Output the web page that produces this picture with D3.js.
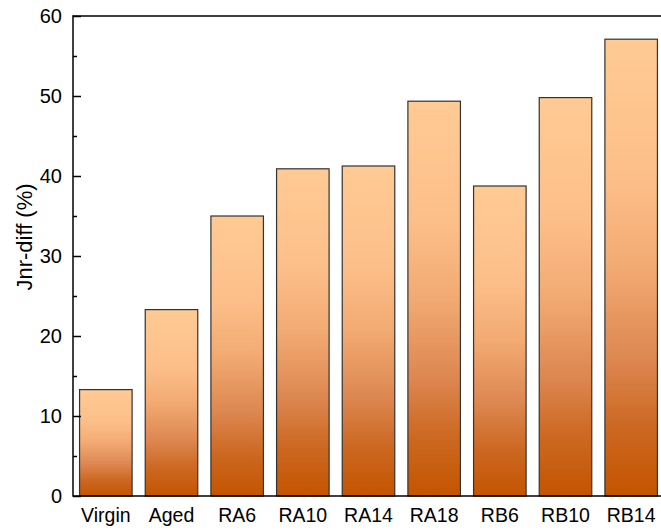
<!DOCTYPE html>
<html>
<head>
<meta charset="utf-8">
<script src="https://cdn.jsdelivr.net/npm/d3@7"></script>
<style>
  body { margin: 0; background: #fff; }
  text { font-family: "Liberation Sans", Arial, sans-serif; fill: #000; }
</style>
</head>
<body>
<div id="central-container"></div>
<script>
// chart data
var samples = ["Virgin", "Aged", "RA6", "RA10", "RA14", "RA18", "RB6", "RB10", "RB14"]
var jnrDiff = [13.3, 23.3, 35.0, 40.9, 41.25, 49.35, 38.75, 49.8, 57.1]
var yTicks = [0, 10, 20, 30, 40, 50, 60]
var yMinor = [5, 15, 25, 35, 45, 55]

var width = 661
var height = 530
var margin = {left: 73, top: 16, bottom: 496, right: 664}

var svg = d3.select("#central-container")
  .append("svg")
    .attr("width", width)
    .attr("height", height)

// gradient for the bars, light on top -> burnt orange at the bottom
var grad = svg.append("defs").append("linearGradient")
    .attr("id", "barGrad")
    .attr("x1", 0).attr("y1", 0).attr("x2", 0).attr("y2", 1)
var stops = [[0, "#ffca94"], [0.3, "#fdbf8a"], [0.5, "#f2aa72"], [0.7, "#dd8751"], [0.85, "#cc6822"], [1, "#c45400"]]
grad.selectAll("stop")
  .data(stops)
  .enter().append("stop")
    .attr("offset", function(d){ return d[0] })
    .attr("stop-color", function(d){ return d[1] })

var x = d3.scaleBand()
  .domain(samples)
  .range([margin.left, margin.right])
  .paddingInner(0.2)
  .paddingOuter(0.1)

var y = d3.scaleLinear()
  .domain([0, 60])
  .range([margin.bottom, margin.top])

// bars
svg.append("g")
  .selectAll("rect")
  .data(samples)
  .enter().append("rect")
    .attr("x", function(d){ return x(d) })
    .attr("y", function(d, i){ return y(jnrDiff[i]) })
    .attr("width", x.bandwidth())
    .attr("height", function(d, i){ return y(0) - y(jnrDiff[i]) })
    .style("fill", "url(#barGrad)")
    .attr("stroke", "#333")
    .attr("stroke-width", 1.2)

// frame lines (top and bottom run off the right edge)
svg.append("line")
  .attr("x1", margin.left).attr("x2", width)
  .attr("y1", margin.top).attr("y2", margin.top)
  .attr("stroke", "#000").attr("stroke-width", 1.5)
svg.append("line")
  .attr("x1", margin.left).attr("x2", width)
  .attr("y1", margin.bottom).attr("y2", margin.bottom)
  .attr("stroke", "#000").attr("stroke-width", 1.5)

// y axis with inward ticks (major 8px, minor 4px)
var yAxis = svg.append("g")
  .attr("transform", "translate(" + margin.left + ",0)")
  .call(d3.axisRight(y).tickValues(yTicks).tickSize(8).tickFormat(""))
yAxis.select(".domain").remove()
yAxis.selectAll("line").attr("stroke", "#000").attr("stroke-width", 1.5)

var yMinorAxis = svg.append("g")
  .attr("transform", "translate(" + margin.left + ",0)")
  .call(d3.axisRight(y).tickValues(yMinor).tickSize(4).tickFormat(""))
yMinorAxis.select(".domain").remove()
yMinorAxis.selectAll("line").attr("stroke", "#000").attr("stroke-width", 1.5)

svg.append("line")
  .attr("x1", margin.left).attr("x2", margin.left)
  .attr("y1", margin.top - 0.75).attr("y2", margin.bottom + 0.75)
  .attr("stroke", "#000").attr("stroke-width", 1.5)

// y tick labels
svg.append("g")
  .selectAll("text")
  .data(yTicks)
  .enter().append("text")
    .attr("x", 62)
    .attr("y", function(d){ return y(d) })
    .attr("dy", "0.36em")
    .attr("text-anchor", "end")
    .style("font-size", "20px")
    .text(function(d){ return d })

// x labels
svg.append("g")
  .selectAll("text")
  .data(samples)
  .enter().append("text")
    .attr("x", function(d){ return x(d) + x.bandwidth() / 2 })
    .attr("y", 522)
    .attr("text-anchor", "middle")
    .style("font-size", "19.5px")
    .text(function(d){ return d })

// y title
svg.append("text")
  .attr("transform", "translate(32,237) rotate(-90)")
  .attr("text-anchor", "middle")
  .style("font-size", "22px")
  .text("Jnr-diff (%)")
</script>
</body>
</html>
